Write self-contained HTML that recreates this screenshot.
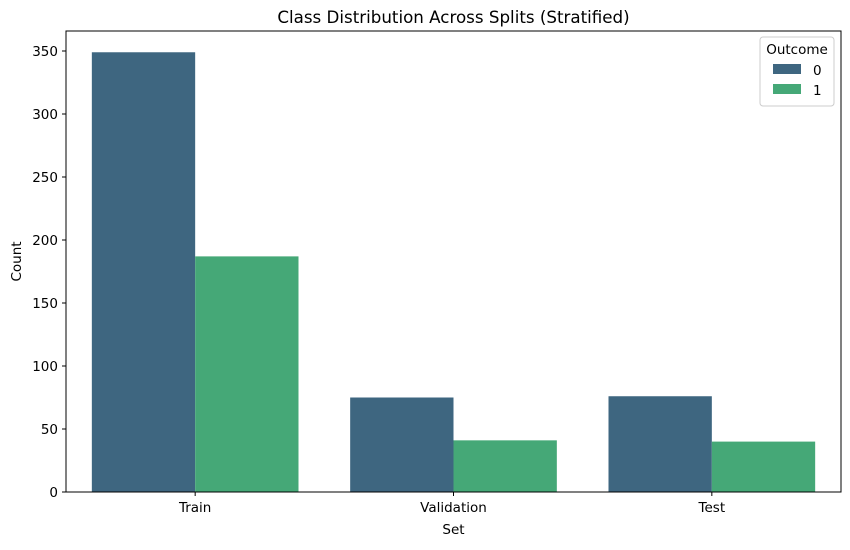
<!DOCTYPE html>
<html><head><meta charset="utf-8"><style>
body{margin:0;background:#fff;font-family:"Liberation Sans","DejaVu Sans",sans-serif;}
svg text{font-family:"DejaVu Sans","Liberation Sans",sans-serif;}
</style></head><body>
<svg id="chart" width="850" height="545" xmlns="http://www.w3.org/2000/svg"></svg>
<script>
const categories = ["Train","Validation","Test"];
const series0 = [349, 75, 76];
const series1 = [187, 41, 40];
const yTicks = [0,50,100,150,200,250,300,350];
const colors = ["#3e6680","#45a877"];
const L=66, R=841, T=31, B=492, yMax=350, yTop=51;
const ns="http://www.w3.org/2000/svg";
const svg=document.getElementById('chart');
function y(v){return B-(B-yTop)*v/yMax;}
const bw=(R-L)/categories.length;
function xc(i){return L+bw*(i+0.5);}
function mk(tag,attrs,parent){const e=document.createElementNS(ns,tag);for(const k in attrs)e.setAttribute(k,attrs[k]);(parent||svg).appendChild(e);return e;}
function txt(s,attrs){const e=mk('text',attrs);e.textContent=s;return e;}
const t=txt("Class Distribution Across Splits (Stratified)",{x:(L+R)/2,y:23,'text-anchor':'middle','font-size':16.7});


const barW=bw*0.4;
[series0,series1].forEach((s,si)=>{
  s.forEach((v,i)=>{
    const x=xc(i)-barW+si*barW;
    const r=mk('rect',{x:x,y:y(v),width:barW,height:B-y(v),fill:colors[si]});
    
    
  });
});
const frame=mk('rect',{x:L,y:T,width:R-L,height:B-T,fill:'none',stroke:'#000','stroke-width':1});


yTicks.forEach(v=>{
  mk('line',{x1:L-4,x2:L,y1:y(v),y2:y(v),stroke:'#000'});
  const e=txt(String(v),{x:L-8,y:y(v)+5,'text-anchor':'end','font-size':13.5});
  
  
});
categories.forEach((c,i)=>{
  mk('line',{x1:xc(i),x2:xc(i),y1:B,y2:B+4,stroke:'#000'});
  const e=txt(c,{x:xc(i),y:B+20,'text-anchor':'middle','font-size':13.5});
  
  
});
const xt=txt("Set",{x:(L+R)/2,y:534,'text-anchor':'middle','font-size':13.5});


const yt=txt("Count",{x:0,y:0,'text-anchor':'middle','font-size':13.5,transform:`translate(21,${(T+B)/2}) rotate(-90)`});


const lg=mk('g',{});


mk('rect',{x:760,y:37,width:74,height:69,rx:3,fill:'#fff','fill-opacity':0.8,stroke:'#ccc'},lg);
const lt=mk('text',{x:797,y:54,'text-anchor':'middle','font-size':13.5},lg);lt.textContent="Outcome";
["0","1"].forEach((n,k)=>{
  const r=mk('rect',{x:773,y:64+k*20,width:28,height:10,fill:colors[k]},lg);
  
  
  const e=mk('text',{x:813,y:75+k*20,'font-size':13.5},lg);e.textContent=n;
});
</script>
</body></html>
